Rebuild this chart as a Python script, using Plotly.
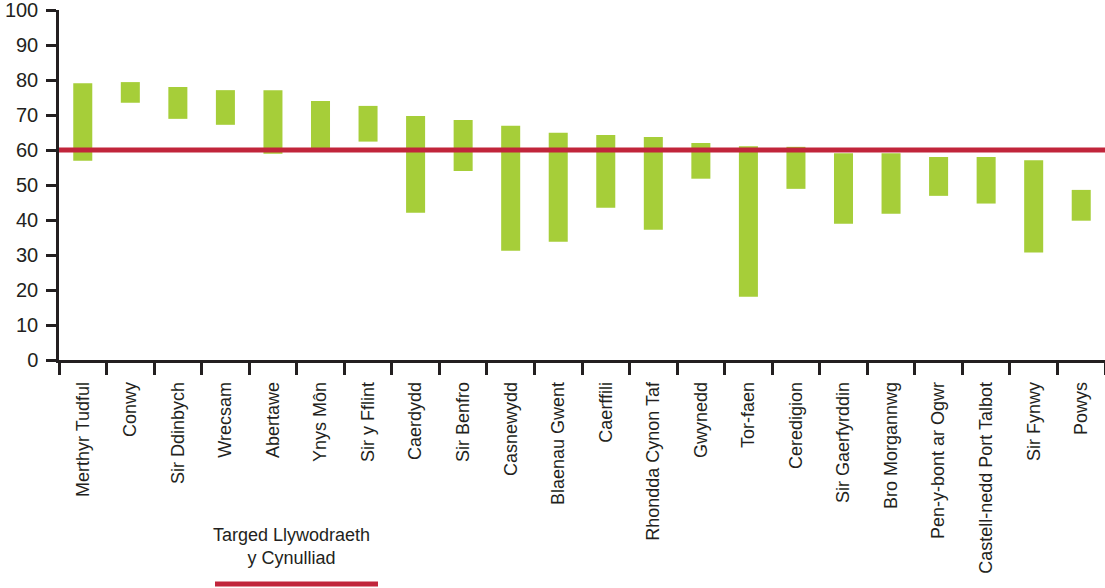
import plotly.graph_objects as go

categories = ["Merthyr Tudful", "Conwy", "Sir Ddinbych", "Wrecsam", "Abertawe", "Ynys Môn",
              "Sir y Fflint", "Caerdydd", "Sir Benfro", "Casnewydd", "Blaenau Gwent", "Caerffili",
              "Rhondda Cynon Taf", "Gwynedd", "Tor-faen", "Ceredigion", "Sir Gaerfyrddin",
              "Bro Morgannwg", "Pen-y-bont ar Ogwr", "Castell-nedd Port Talbot", "Sir Fynwy", "Powys"]
low_values = [56.9, 73.5, 68.9, 67.2, 58.9, 59.7, 62.4, 42.1, 54.0, 31.2, 33.8, 43.5,
              37.2, 51.8, 18.1, 48.9, 38.9, 41.8, 46.9, 44.7, 30.7, 39.8]
high_values = [79.1, 79.4, 78.0, 77.1, 77.1, 74.0, 72.6, 69.7, 68.6, 66.9, 64.9, 64.3,
               63.7, 62.0, 61.1, 60.9, 59.1, 59.1, 58.0, 58.0, 57.1, 48.6]
target_value = 60
target_label = "Targed Llywodraeth<br>y Cynulliad"
y_ticks = [0, 10, 20, 30, 40, 50, 60, 70, 80, 90, 100]

DARK = "#231f20"
GREEN = "#a6ce39"
RED = "#c1253b"
FONT = "Liberation Sans, Arial, sans-serif"

fig = go.Figure()
fig.add_trace(go.Bar(
    x=categories,
    y=[h - l for h, l in zip(high_values, low_values)],
    base=low_values,
    marker=dict(color=GREEN, line=dict(width=0)),
    width=0.4,
    showlegend=False,
))

fig.add_shape(type="line", xref="paper", yref="y", x0=0, x1=1, y0=target_value, y1=target_value,
              line=dict(color=RED, width=5), layer="above")

# legend
fig.add_annotation(text=target_label, xref="paper", yref="paper",
                   x=(291 - 59) / 1046, y=-(546 - 360) / 350, xanchor="center", yanchor="middle",
                   showarrow=False, font=dict(family=FONT, size=18, color=DARK), align="center")
fig.add_shape(type="line", xref="paper", yref="paper",
              x0=(215 - 59) / 1046, x1=(378 - 59) / 1046,
              y0=-(584 - 360) / 350, y1=-(584 - 360) / 350,
              line=dict(color=RED, width=5))

fig.update_layout(
    width=1105, height=588,
    margin=dict(l=59, r=0, t=10, b=228),
    paper_bgcolor="white", plot_bgcolor="white",
    font=dict(family=FONT, color=DARK),
    bargap=0.6,
)
fig.update_yaxes(range=[0, 100], tickvals=y_ticks, showgrid=False, zeroline=False,
                 showline=True, linecolor=DARK, linewidth=2.5, automargin=False,
                 ticks="outside", ticklen=10, tickwidth=2.5, tickcolor=DARK,
                 ticklabeloverflow="allow", ticklabelstandoff=4,
                 tickfont=dict(size=20, color=DARK, family=FONT))
fig.update_xaxes(showgrid=False, showline=True, linecolor=DARK, linewidth=2.5, automargin=False,
                 ticks="outside", ticklen=12, tickwidth=2.5, tickcolor=DARK,
                 tickson="boundaries", tickangle=-90, ticklabeloverflow="allow",
                 ticklabelstandoff=12,
                 tickfont=dict(size=18, color=DARK, family=FONT))

fig.write_html("out.html", config={"displayModeBar": False},
               post_script="document.body.style.margin='0';document.body.style.padding='0';")
